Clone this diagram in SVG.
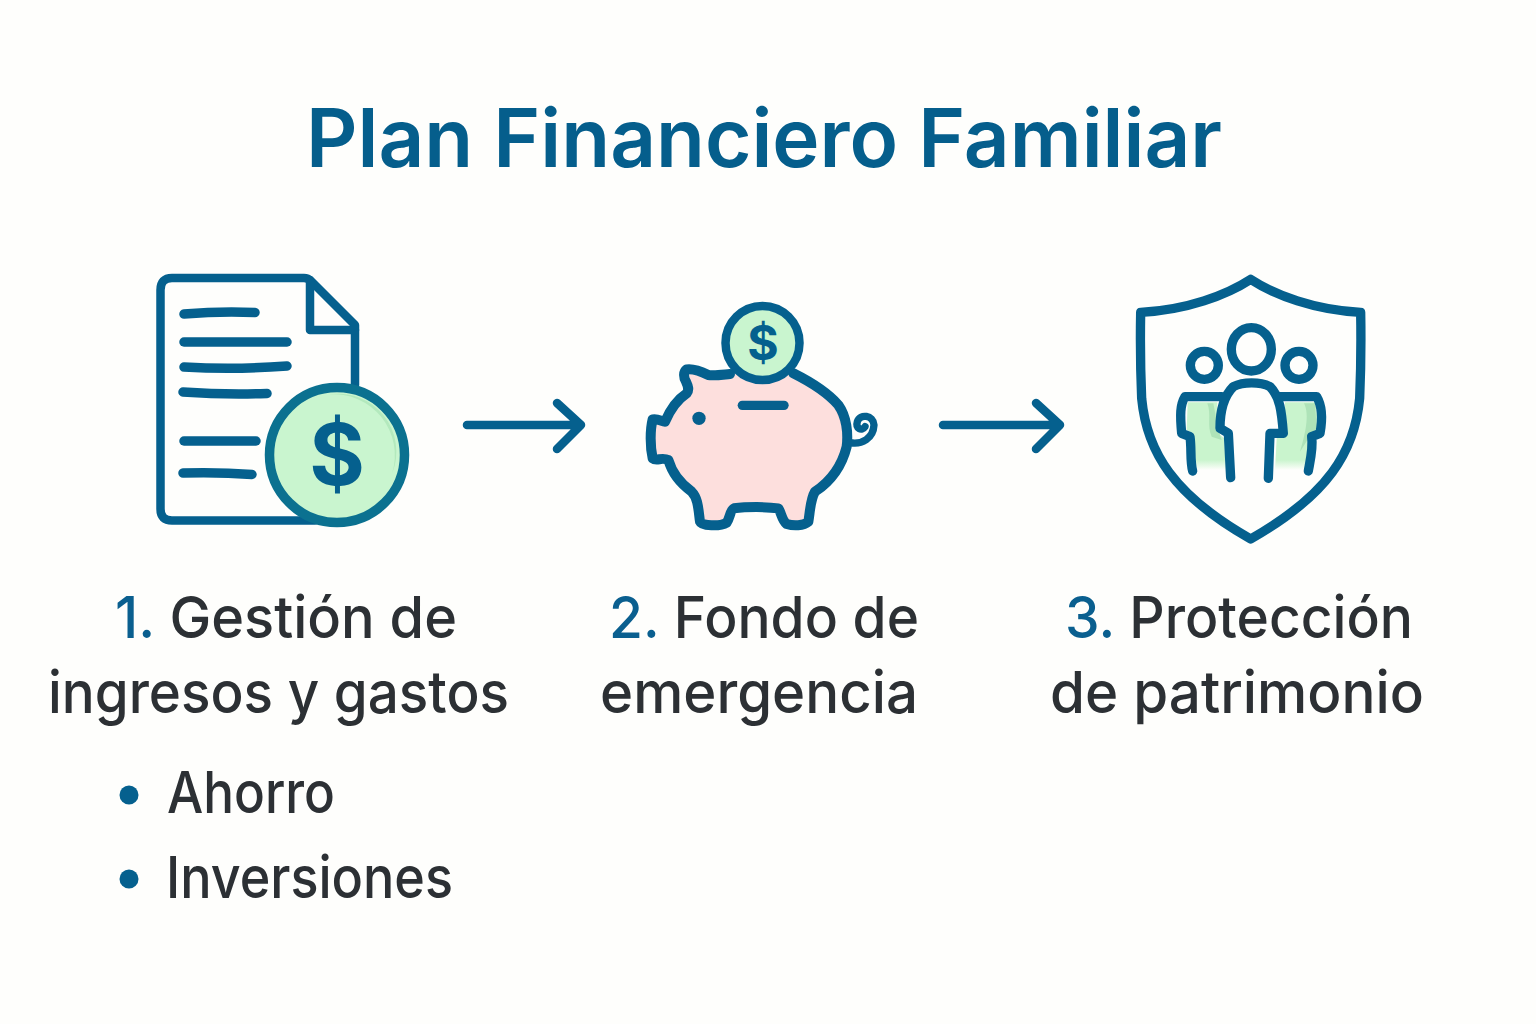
<svg xmlns="http://www.w3.org/2000/svg" width="1536" height="1024" viewBox="0 0 1536 1024">
<style>
text{font-family:"Inter","Noto Sans","Liberation Sans",sans-serif}
.title{font-size:81px;font-weight:600;fill:#055e8c}
.lab{font-size:58px;font-weight:500;fill:#2c3034}
.n{fill:#0a5f8f}
.line{fill:none;stroke:#05608e;stroke-width:8.500;stroke-linecap:round;stroke-linejoin:round}
.z{fill:none;stroke:#05608e;stroke-width:28;stroke-linecap:round;stroke-linejoin:round}
.d{font-weight:700;fill:#05608e;text-anchor:middle}
</style>
<defs>
<linearGradient id="fade" x1="0" y1="0" x2="0" y2="1"><stop offset="0.85" stop-color="#c9f4cd"/><stop offset="1" stop-color="#c9f4cd" stop-opacity="0"/></linearGradient>
</defs>
<rect width="1536" height="1024" fill="#fefefc"/>
<text id="title" class="title" x="306" y="167" textLength="916" lengthAdjust="spacingAndGlyphs">Plan Financiero Familiar</text>

<g id="node-1">
<path d="M172,278H304Q308,278 311,281L355,325V385M160.500,290Q160.500,278 172,278M160.500,290V509Q160.500,520.500 172,520.500H315" class="line"/>
<path d="M310,280V330H355" class="line"/>
<g class="line" style="stroke-width:9.500">
<path d="M184,314Q220,311 255,312.500"/><path d="M184,342H287"/><path d="M184,367Q235,370 287,366"/><path d="M183,392Q225,395 267,393.500"/><path d="M184,441H256"/><path d="M183,473Q220,472 252,474.500"/>
</g>
<circle cx="337" cy="455" r="67.500" fill="#c9f5cf" stroke="#0b7190" stroke-width="9.500"/>
<path d="M337,394A61,61 0 0 1 389,481A58,58 0 0 0 337,394Z" fill="#b3e9bd" transform="rotate(-8 337 455)"/>
<text class="d" x="337" y="485" font-size="85">$</text>
<text class="lab" x="115" y="638" textLength="342" lengthAdjust="spacingAndGlyphs"><tspan class="n">1.</tspan> Gestión de</text>
<text class="lab" x="48" y="713" textLength="461" lengthAdjust="spacingAndGlyphs">ingresos y gastos</text>
<circle cx="129" cy="795" r="9.500" fill="#05608e"/>
<text class="lab" x="167" y="813" textLength="168" lengthAdjust="spacingAndGlyphs">Ahorro</text>
<circle cx="129" cy="879" r="9.500" fill="#05608e"/>
<text class="lab" x="166" y="898" textLength="287" lengthAdjust="spacingAndGlyphs">Inversiones</text>
</g>

<g id="node-2">
<g transform="translate(630 290) scale(.33333)">
<path d="M300,252C270,255 250,258 235,255C215,245 190,235 170,238C160,245 160,262 168,275C175,290 178,300 170,310C140,330 120,360 105,395C95,395 85,385 68,388C60,420 60,470 68,505C80,515 95,500 115,510C125,545 150,580 185,605C205,625 205,660 210,695C215,708 270,710 290,698C300,685 300,660 312,655C350,650 410,650 445,655C455,670 455,690 470,702C490,708 520,708 535,695C540,670 540,630 555,605C600,575 635,530 650,470C655,430 650,380 625,345C590,305 530,270 490,250Z" fill="#fddfdd"/>
<path d="M610,350C640,400 645,450 625,510C650,470 650,400 610,350Z" fill="#f8cfcf"/>
<path class="z" style="stroke-width:30" d="M300,252C270,255 250,258 235,255C215,245 190,235 170,238C160,245 160,262 168,275C175,290 178,300 170,310C140,330 120,360 105,395C95,395 85,385 68,388C60,420 60,470 68,505C80,515 95,500 115,510C125,545 150,580 185,605C205,625 205,660 210,695C215,708 270,710 290,698C300,685 300,660 312,655C350,650 410,650 445,655C455,670 455,690 470,702C490,708 520,708 535,695C540,670 540,630 555,605C600,575 635,530 650,470C655,430 650,380 625,345C590,305 530,270 490,250"/>
<path class="z" style="stroke-width:22" d="M660,458C695,465 730,445 732,405C730,375 690,370 682,395C676,415 695,425 705,410"/>
<circle cx="207" cy="385" r="20" fill="#05608e"/>
<path class="z" d="M337,346H462"/>
</g>
<circle cx="762.500" cy="343" r="37" fill="#c9f5cf" stroke="#05608e" stroke-width="8.500"/>
<text class="d" x="763" y="360" font-size="48">$</text>
<text class="lab" x="609" y="638" textLength="310" lengthAdjust="spacingAndGlyphs"><tspan class="n">2.</tspan> Fondo de</text>
<text class="lab" x="600" y="713" textLength="318" lengthAdjust="spacingAndGlyphs">emergencia</text>
</g>

<g id="node-3">
<g transform="translate(1120 265) scale(.33333)">
<path d="M203,412H292L290,500L312,520L318,615H232C225,590 225,550 220,505L200,495Z" fill="url(#fade)"/>
<path d="M495,412H585L600,495L575,505C570,550 560,590 555,615H465L470,520L495,505Z" fill="url(#fade)"/>
<path d="M262,415C275,450 260,480 275,515L305,525L295,495L280,415Z" fill="#aee3b8"/>
<path d="M552,415C570,450 555,510 540,560L575,505L590,490L585,415Z" fill="#aee3b8"/>
<path class="z" d="M392,43C320,90 200,135 62,142C60,250 62,330 65,400C80,560 160,690 392,822C624,690 704,560 719,400C722,330 724,250 722,142C584,135 464,90 392,43Z"/>
<ellipse class="z" cx="394" cy="253" rx="60" ry="65"/>
<circle class="z" cx="253" cy="301" r="42"/>
<circle class="z" cx="537" cy="301" r="42"/>
<path class="z" d="M332,638L325,505L300,490C300,440 310,395 340,365C370,350 420,350 450,365C480,395 485,440 490,505L450,505L445,640"/>
<path class="z" d="M218,618C210,590 215,550 210,515L185,505C180,450 180,420 195,395H305"/>
<path class="z" d="M565,618C570,590 580,550 575,515L600,505C610,450 605,420 590,395H480"/>
</g>
<text class="lab" x="1065" y="638" textLength="348" lengthAdjust="spacingAndGlyphs"><tspan class="n">3.</tspan> Protección</text>
<text class="lab" x="1050" y="713" textLength="374" lengthAdjust="spacingAndGlyphs">de patrimonio</text>
</g>

<g id="connectors">
<path class="line" d="M467,425H580M557,403L581,425L557,449"/>
<path class="line" d="M943,425H1058M1036,403L1060,425L1036,449"/>
</g>
</svg>
